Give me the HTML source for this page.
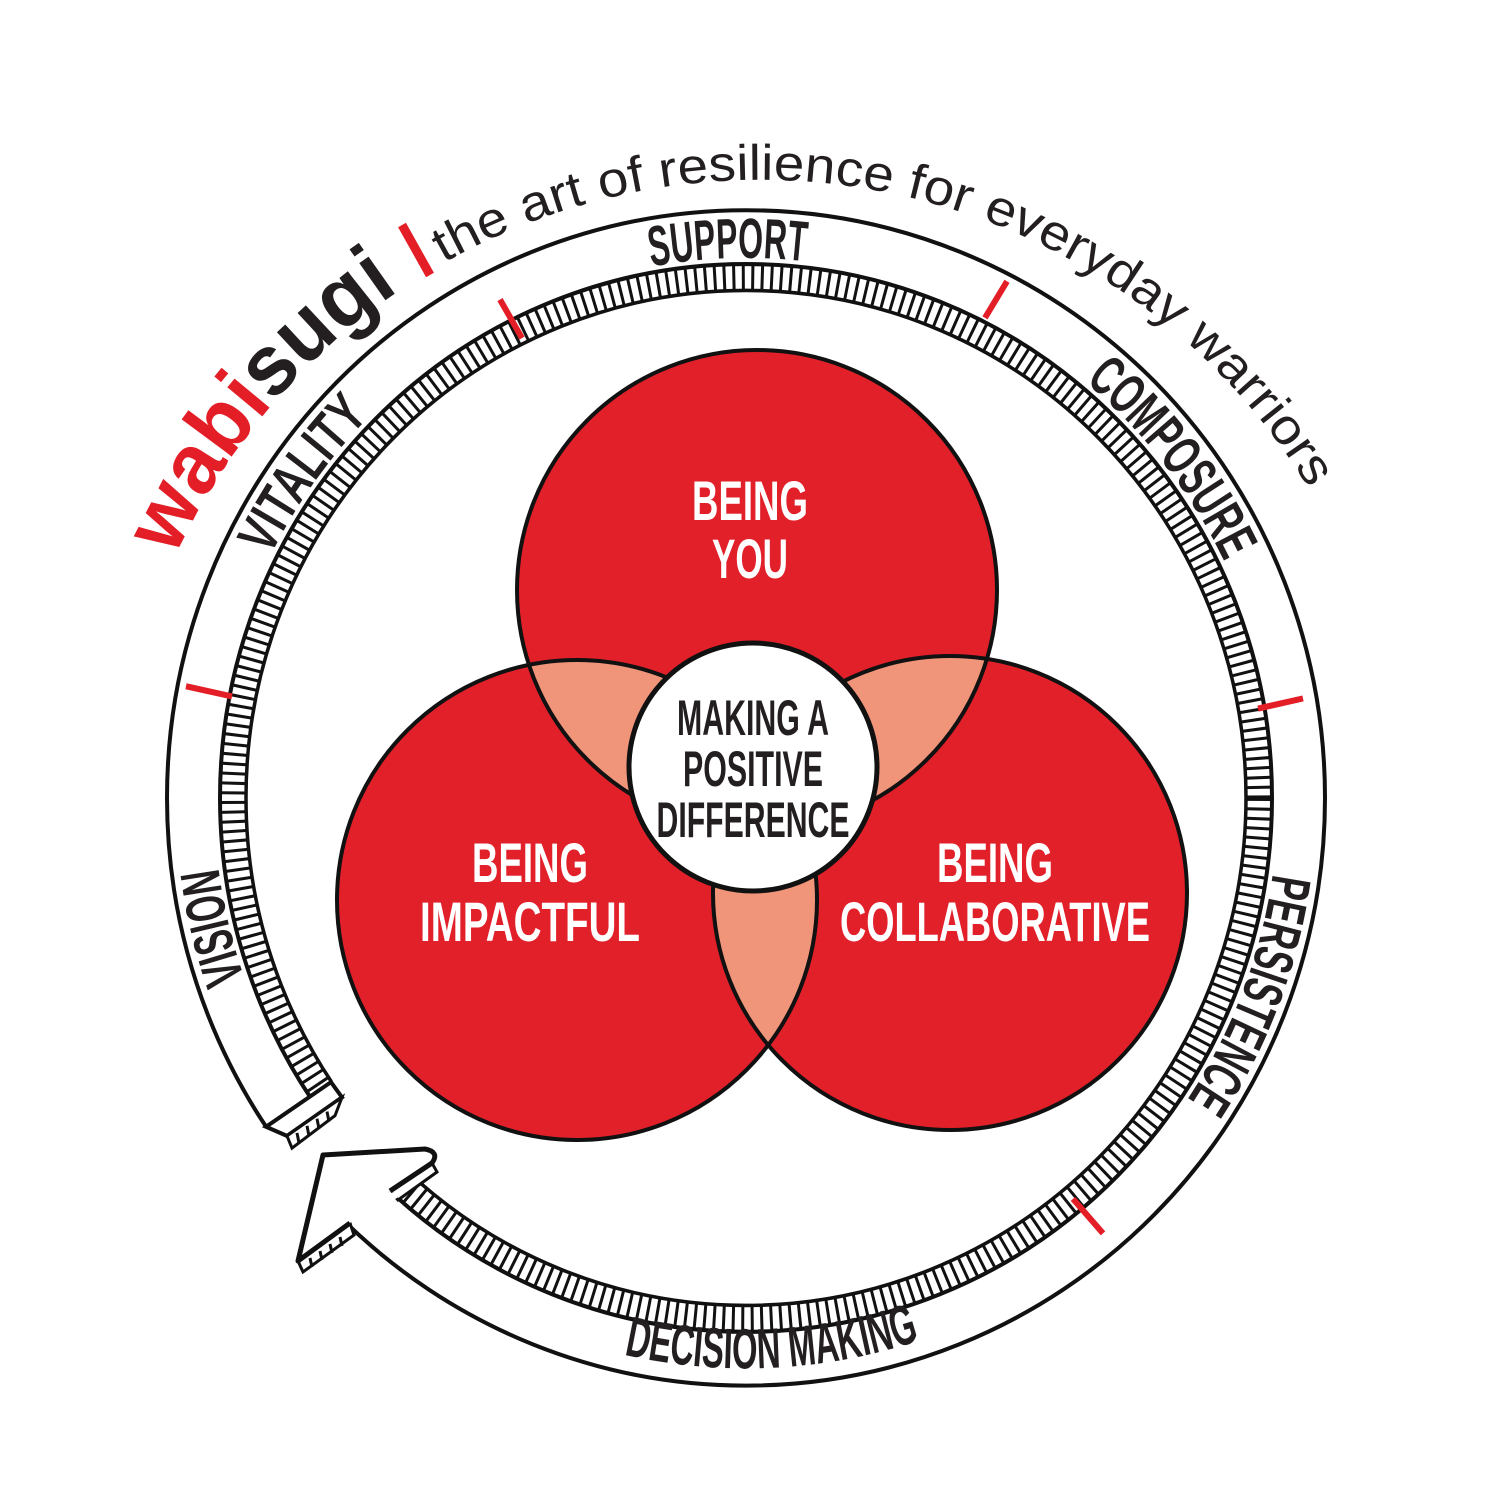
<!DOCTYPE html>
<html><head><meta charset="utf-8"><style>
html,body{margin:0;padding:0;background:#fff;}
svg{display:block;}
.lbl{font-family:"Liberation Sans Narrow","Liberation Sans",sans-serif;font-weight:bold;fill:#231f20;font-size:56px;}
.wt{font-family:"Liberation Sans Narrow","Liberation Sans",sans-serif;font-weight:bold;fill:#fff;font-size:56px;}
.ct{font-family:"Liberation Sans Narrow","Liberation Sans",sans-serif;font-weight:bold;fill:#231f20;font-size:50px;}
</style></head><body>
<svg width="1500" height="1500" viewBox="0 0 1500 1500" xmlns="http://www.w3.org/2000/svg">
<defs>
<path id="cw" d="M1278,795 A532,532 0 1 1 214,795 A532,532 0 1 1 1278,795"/>
<path id="ccw" d="M1308,795 A562,562 0 1 0 184,795 A562,562 0 1 0 1308,795"/>
<path id="tt" d="M1402,822 A642,642 0 1 1 118,822 A642,642 0 1 1 1402,822"/>
<clipPath id="cT"><circle cx="757" cy="590" r="240"/></clipPath>
<clipPath id="cL"><circle cx="577" cy="900" r="240"/></clipPath>
</defs>

<!-- title -->
<text font-family="'Liberation Sans',sans-serif" font-weight="bold" font-size="86" textLength="353" lengthAdjust="spacingAndGlyphs"><textPath href="#tt" startOffset="2290"><tspan fill="#e31e27">wabi</tspan><tspan fill="#231f20">sugi</tspan></textPath></text>
<line x1="430" y1="275" x2="402" y2="225" stroke="#e31e27" stroke-width="9"/>
<text font-family="'Liberation Sans',sans-serif" font-size="50" fill="#231f20" textLength="989" lengthAdjust="spacingAndGlyphs"><textPath href="#tt" startOffset="2695">the art of resilience for everyday warriors</textPath></text>

<g transform="translate(0,-9) scale(1,1.015)">
<!-- ring -->
<circle cx="746" cy="795" r="552" fill="none" stroke="#fff" stroke-width="52"/>
<circle cx="746" cy="795" r="579" fill="none" stroke="#111" stroke-width="4"/>
<circle cx="746" cy="795" r="526" fill="none" stroke="#111" stroke-width="4"/>
<circle cx="746" cy="795" r="513" fill="none" stroke="#111" stroke-width="24" stroke-dasharray="3 6.5"/>
<circle cx="746" cy="795" r="500" fill="none" stroke="#111" stroke-width="3.5"/>
<!-- gap -->
<polygon points="423,1136 386,1097 356,1058 225,1146 271,1200 319,1250" fill="#fff"/>
<!-- band end cap -->
<polygon points="266,1119 331,1075 342,1090 287,1128" fill="#fff" stroke="#111" stroke-width="4"/>
<polygon points="287,1128 342,1090 335,1108 292,1140" fill="#fff" stroke="#111" stroke-width="3"/>
<g stroke="#111" stroke-width="3"><line x1="297" y1="1125" x2="299" y2="1135"/><line x1="307" y1="1118" x2="309" y2="1128"/><line x1="317" y1="1111" x2="319" y2="1121"/><line x1="327" y1="1104" x2="329" y2="1114"/></g>

<!-- ticks -->
<g stroke="#e31e27" stroke-width="6">
<line x1="500" y1="304" x2="522" y2="342"/>
<line x1="985" y1="322" x2="1007" y2="286"/>
<line x1="186" y1="685" x2="232" y2="695"/>
<line x1="1258" y1="707" x2="1303" y2="697"/>
<line x1="1073" y1="1190" x2="1103" y2="1224"/>
</g>

<!-- ring labels -->
<text class="lbl" text-anchor="middle" textLength="155" lengthAdjust="spacingAndGlyphs"><textPath href="#cw" startOffset="2489">SUPPORT</textPath></text>
<text class="lbl" text-anchor="middle" textLength="170" lengthAdjust="spacingAndGlyphs"><textPath href="#cw" startOffset="2003">VITALITY</textPath></text>
<text class="lbl" text-anchor="middle" textLength="227" lengthAdjust="spacingAndGlyphs"><textPath href="#cw" startOffset="2988">COMPOSURE</textPath></text>
<text class="lbl" text-anchor="middle" textLength="240" lengthAdjust="spacingAndGlyphs"><textPath href="#cw" startOffset="195">PERSISTENCE</textPath></text>
<text class="lbl" text-anchor="middle" textLength="112" lengthAdjust="spacingAndGlyphs"><textPath href="#cw" startOffset="1546">VISION</textPath></text>
<text class="lbl" text-anchor="middle" textLength="300" lengthAdjust="spacingAndGlyphs"><textPath href="#ccw" startOffset="2675">DECISION MAKING</textPath></text>
</g>

<!-- arrowhead -->
<polygon points="298,1261 350,1223 354,1235 303,1272" fill="#fff" stroke="#111" stroke-width="3"/>
<g stroke="#111" stroke-width="3"><line x1="310" y1="1258" x2="312" y2="1267"/><line x1="320" y1="1251" x2="322" y2="1260"/><line x1="330" y1="1244" x2="332" y2="1253"/><line x1="340" y1="1237" x2="342" y2="1246"/></g>
<polygon points="390,1191 432,1163 437,1172 398,1200" fill="#fff" stroke="#111" stroke-width="3"/>
<path d="M352,1226 L400,1196 L390,1191 Z" fill="#fff"/>
<path d="M390,1191 L432,1163 Q440,1152 425,1149 L323,1155 L298,1261 L350,1223" fill="#fff" stroke="#111" stroke-width="5" stroke-linejoin="round"/>

<!-- venn -->
<circle cx="757" cy="590" r="240" fill="#e2202a"/>
<circle cx="577" cy="900" r="240" fill="#e2202a"/>
<circle cx="950" cy="893" r="237" fill="#e2202a"/>
<circle cx="577" cy="900" r="240" fill="#f0957a" clip-path="url(#cT)"/>
<circle cx="950" cy="893" r="237" fill="#f0957a" clip-path="url(#cT)"/>
<circle cx="950" cy="893" r="237" fill="#f0957a" clip-path="url(#cL)"/>
<g fill="none" stroke="#111" stroke-width="4">
<circle cx="757" cy="590" r="240"/>
<circle cx="577" cy="900" r="240"/>
<circle cx="950" cy="893" r="237"/>
</g>
<circle cx="753" cy="767" r="124" fill="#fff" stroke="#111" stroke-width="5"/>

<text class="wt" x="750" y="520" text-anchor="middle" textLength="116" lengthAdjust="spacingAndGlyphs">BEING</text>
<text class="wt" x="750" y="578" text-anchor="middle" textLength="76" lengthAdjust="spacingAndGlyphs">YOU</text>
<text class="wt" x="530" y="882" text-anchor="middle" textLength="116" lengthAdjust="spacingAndGlyphs">BEING</text>
<text class="wt" x="530" y="941" text-anchor="middle" textLength="220" lengthAdjust="spacingAndGlyphs">IMPACTFUL</text>
<text class="wt" x="995" y="882" text-anchor="middle" textLength="116" lengthAdjust="spacingAndGlyphs">BEING</text>
<text class="wt" x="995" y="941" text-anchor="middle" textLength="310" lengthAdjust="spacingAndGlyphs">COLLABORATIVE</text>

<text class="ct" x="753" y="735" text-anchor="middle" textLength="152" lengthAdjust="spacingAndGlyphs">MAKING A</text>
<text class="ct" x="753" y="786" text-anchor="middle" textLength="140" lengthAdjust="spacingAndGlyphs">POSITIVE</text>
<text class="ct" x="753" y="837" text-anchor="middle" textLength="193" lengthAdjust="spacingAndGlyphs">DIFFERENCE</text>
</svg>
</body></html>
